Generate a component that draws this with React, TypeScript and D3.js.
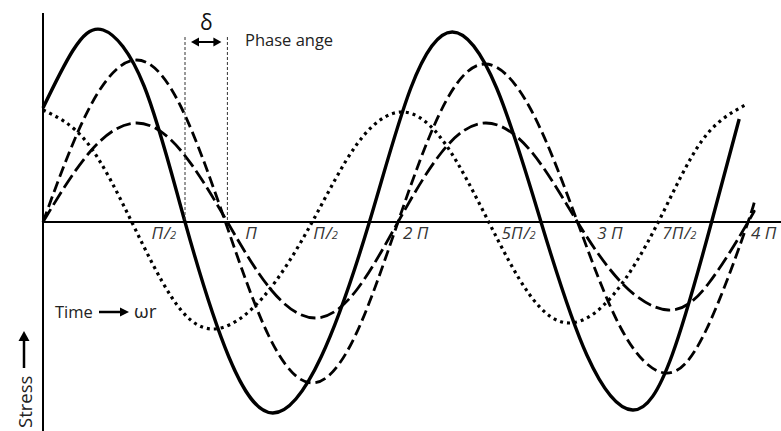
import React from "react";
import * as d3 from "d3";

// Phase angle in degrees (x), stress in arbitrary units (y)
const solidX = [0, 30, 61, 102.5, 144, 188.5, 233, 282, 331, 373, 415, 460, 505, 551.5, 598, 638, 678, 706];
const solidY = [1.14, 1.71, 1.92, 1.36, 0, -1.35, -1.91, -1.35, 0, 1.34, 1.9, 1.34, 0, -1.33, -1.88, -1.33, 0, 1.03];

const bigDashX = [0, 47.5, 95, 140, 185, 229, 273, 316.5, 360, 404, 448, 495, 542, 586.5, 631, 673, 715, 720];
const bigDashY = [0, 1.15, 1.62, 1.15, 0, -1.14, -1.61, -1.14, 0, 1.12, 1.58, 1.12, 0, -1.07, -1.51, -1.07, 0, 0.19];

const smallDashX = [0, 47.5, 95, 141, 187, 231.5, 276, 318, 360, 404.5, 449, 495.5, 542, 588, 634, 674.5, 715, 720];
const smallDashY = [0, 0.7, 0.99, 0.7, 0, -0.68, -0.96, -0.68, 0, 0.7, 0.99, 0.7, 0, -0.62, -0.88, -0.62, 0, 0.09];

const dottedX = [0, 45, 90, 131, 172, 222.5, 273, 318.5, 364, 408, 452, 493, 534, 579, 624, 668, 712];
const dottedY = [1.12, 0.79, 0, -0.76, -1.07, -0.76, 0, 0.78, 1.1, 0.78, 0, -0.72, -1.01, -0.72, 0, 0.81, 1.17];

const tickLabelX = [110, 205, 274, 365, 465, 562, 628, 718];
const tickPrefix = ["Π", "Π", "Π", "2 Π", "5Π", "3 Π", "7Π", "4 Π"];
const tickIsHalf = [true, false, true, false, true, false, true, false];

const deltaStart = 144;
const deltaEnd = 187;
const deltaTop = 1.85;

const W = 781;
const H = 431;

export default function App() {
  const x = d3.scaleLinear().domain([0, 720]).range([43, 753]);
  const y = d3.scaleLinear().domain([-2, 2]).range([422, 22]);

  const line = d3
    .line<[number, number]>()
    .x((d) => x(d[0]))
    .y((d) => y(d[1]))
    .curve(d3.curveNatural);

  const zip = (xs: number[], ys: number[]) => xs.map((v, i) => [v, ys[i]] as [number, number]);

  const y0 = y(0);
  const font = "'Open Sans', 'Noto Sans', sans-serif";

  return (
    <svg
      width={W}
      height={H}
      style={{ position: "absolute", left: 0, top: 0, display: "block", background: "#fff" }}
    >
      {/* curves */}
      <path d={line(zip(dottedX, dottedY)) || ""} fill="none" stroke="#000" strokeWidth={3.2} strokeDasharray="3 4" />
      <path d={line(zip(smallDashX, smallDashY)) || ""} fill="none" stroke="#000" strokeWidth={2.8} strokeDasharray="15 5" />
      <path d={line(zip(bigDashX, bigDashY)) || ""} fill="none" stroke="#000" strokeWidth={2.8} strokeDasharray="11 5" />
      <path d={line(zip(solidX, solidY)) || ""} fill="none" stroke="#000" strokeWidth={3.4} />

      {/* axes */}
      <line x1={x(0)} x2={W} y1={y0} y2={y0} stroke="#000" strokeWidth={2} />
      <line x1={x(0)} x2={x(0)} y1={13} y2={H} stroke="#000" strokeWidth={2} />

      {/* tick labels */}
      {tickLabelX.map((v, i) => (
        <text key={i} x={x(v)} y={239} fontFamily={font} fontStyle="italic" fontSize={17} fill="#333">
          {tickPrefix[i]}
          {tickIsHalf[i] ? (
            <>
              <tspan dx={1}>/</tspan>
              <tspan fontSize={11}>2</tspan>
            </>
          ) : null}
        </text>
      ))}

      {/* phase angle marker */}
      <line x1={x(deltaStart)} x2={x(deltaStart)} y1={y(deltaTop)} y2={y0} stroke="#333" strokeWidth={1} strokeDasharray="3 2" />
      <line x1={x(deltaEnd)} x2={x(deltaEnd)} y1={y(deltaTop)} y2={y0} stroke="#333" strokeWidth={1} strokeDasharray="3 2" />
      <line x1={x(deltaStart) + 10} x2={x(deltaEnd) - 10} y1={42} y2={42} stroke="#000" strokeWidth={2} />
      <path d={`M${x(deltaStart) + 6},42 l8,-4.5 l0,9 z`} fill="#000" />
      <path d={`M${x(deltaEnd) - 6},42 l-8,-4.5 l0,9 z`} fill="#000" />
      <text x={(x(deltaStart) + x(deltaEnd)) / 2} y={30} textAnchor="middle" fontFamily={font} fontSize={21} fill="#111">
        δ
      </text>
      <text x={245} y={46} fontFamily={font} fontSize={16.5} fill="#222">
        Phase ange
      </text>

      {/* time label */}
      <text x={55} y={318} fontFamily={font} fontSize={16.5} fill="#222">
        Time
      </text>
      <line x1={99} x2={121} y1={312} y2={312} stroke="#000" strokeWidth={2.5} />
      <path d="M129,312 l-9,-4.5 l0,9 z" fill="#000" />
      <text x={134} y={318} fontFamily={font} fontSize={19} fill="#222">
        ωr
      </text>

      {/* stress label */}
      <text
        transform="translate(32,428) rotate(-90)"
        fontFamily={font}
        fontSize={18.5}
        fill="#222"
      >
        Stress
      </text>
      <line x1={24} x2={24} y1={368} y2={340} stroke="#000" strokeWidth={2.5} />
      <path d="M24,331 l-5.5,10 l11,0 z" fill="#000" />
    </svg>
  );
}
